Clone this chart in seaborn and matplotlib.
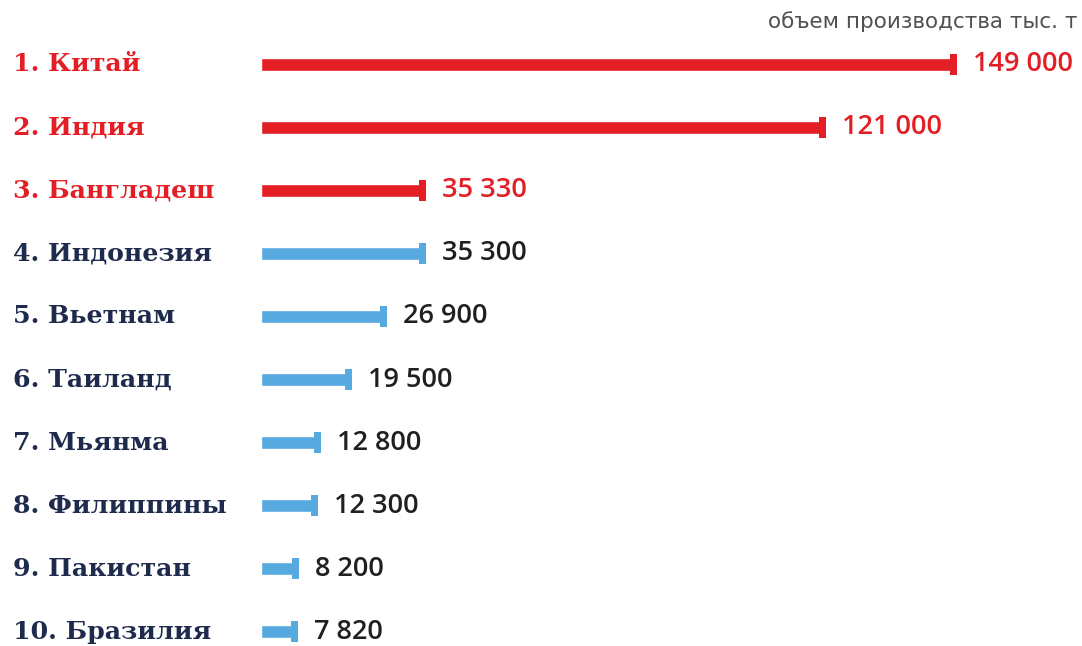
import matplotlib
matplotlib.use("Agg")
import matplotlib.pyplot as plt
import matplotlib.transforms as mtransforms
import seaborn as sns
import pandas as pd

countries = ["1. Китай", "2. Индия", "3. Бангладеш", "4. Индонезия", "5. Вьетнам",
             "6. Таиланд", "7. Мьянма", "8. Филиппины", "9. Пакистан", "10. Бразилия"]
values = [149000, 121000, 35330, 35300, 26900, 19500, 12800, 12300, 8200, 7820]
highlight = [True, True, True, False, False, False, False, False, False, False]
caption = "объем производства тыс. т"

RED = "#E31E25"
BLUE = "#56AADF"
NAVY = "#1F2B4D"
DARK = "#231F20"

bar_colors = [RED if h else BLUE for h in highlight]
label_colors = [RED if h else NAVY for h in highlight]
value_colors = [RED if h else DARK for h in highlight]

df = pd.DataFrame({"country": countries, "value": values})

sns.set_theme(style="white")
plt.rcParams["font.family"] = ["DejaVu Sans"]

W, H = 1082, 646
fig = plt.figure(figsize=(W / 100, H / 100), dpi=100)
ax = fig.add_axes([0, 0, 1, 1])

row_px = 63.1
first_px = 64
bar_start_px = 261
px_per_unit = 696 / 149000.0

sns.barplot(data=df, x="value", y="country", hue="country", palette=bar_colors,
            orient="h", width=13 / row_px, legend=False, ax=ax, saturation=1)

# end caps
cap_w = 7 / px_per_unit
cap_h = 21 / row_px
pos = list(range(len(values)))
ax.barh(pos, [cap_w] * len(values), left=[v - cap_w for v in values],
        height=cap_h, color=bar_colors, linewidth=0)

ax.set_xlim(-bar_start_px / px_per_unit, (W - bar_start_px) / px_per_unit)
ax.set_ylim((H - first_px) / row_px, -first_px / row_px)
ax.axis("off")

trans = mtransforms.blended_transform_factory(fig.transFigure, ax.transData)
for i, (lab, c) in enumerate(zip(countries, label_colors)):
    ax.text(13 / W, i, lab, transform=trans, color=c, fontsize=18.2,
            fontfamily="DejaVu Serif", fontweight="bold", va="center", ha="left")

for i, (v, c) in enumerate(zip(values, value_colors)):
    ax.annotate(f"{v:,}".replace(",", " "), xy=(v, i), xytext=(11.5, 0),
                textcoords="offset points", color=c, fontsize=19.5,
                fontfamily="Open Sans", fontweight="semibold", va="center", ha="left")

fig.text(1077 / W, 1 - 22 / H, caption, color="#505050", fontsize=15.5,
         fontfamily="DejaVu Sans", ha="right", va="center")

fig.savefig("out.png", dpi=100)
